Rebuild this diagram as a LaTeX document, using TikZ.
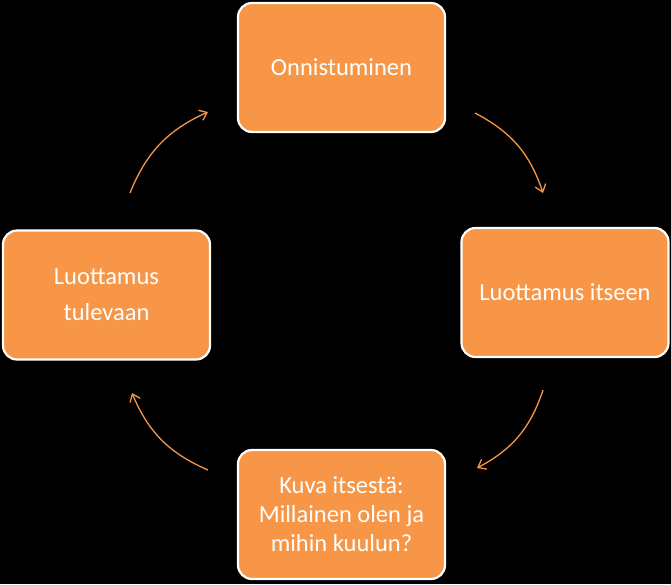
\documentclass[tikz,border=0pt]{standalone}
\usepackage{fontspec}
\setmainfont{Carlito}
\usetikzlibrary{arrows.meta}
\definecolor{og}{HTML}{F79646}
\begin{document}
\begin{tikzpicture}[x=1pt,y=-1pt,
  box/.style={draw=white,line width=2.2pt,fill=og,rounded corners=14pt,minimum width=207pt,minimum height=129pt,text=white,align=center,font=\fontsize{24.5}{29}\selectfont,inner sep=2pt},
  arr/.style={draw=og,line width=1.3pt,-{Straight Barb[length=7pt,width=11pt]},bend left=22}]
\fill[black] (0,0) rectangle (671,584);
\useasboundingbox (0,0) rectangle (671,584);
\node[box] (top) at (341.5,67.5) {Onnistuminen};
\node[box] (right) at (565,292.5) {Luottamus itseen};
\node[box] (bottom) at (341.5,514.5) {Kuva itsestä:\\Millainen olen ja\\mihin kuulun?};
\node[box] (left) at (106.5,295) {Luottamus\\[7pt]tulevaan};
\coordinate (a1) at (475,113); \coordinate (a2) at (543,193);
\coordinate (b1) at (543,390); \coordinate (b2) at (477,468);
\coordinate (c1) at (208,470); \coordinate (c2) at (132,393);
\coordinate (d1) at (130,193); \coordinate (d2) at (208,112);
\draw[arr] (a1) to (a2);
\draw[arr] (b1) to (b2);
\draw[arr] (c1) to (c2);
\draw[arr] (d1) to (d2);
\end{tikzpicture}
\end{document}
